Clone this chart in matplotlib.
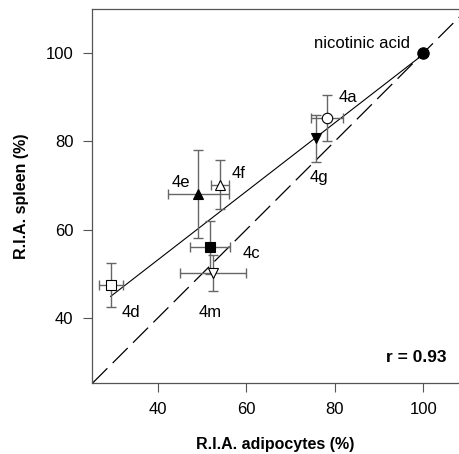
import numpy as np
import matplotlib
matplotlib.use("Agg")
import matplotlib.pyplot as plt

plt.rcParams["font.family"] = ["Liberation Sans", "DejaVu Sans"]

# values (R.I.A. in %)
names = ["nicotinic acid", "4a", "4g", "4e", "4f", "4c", "4m", "4d"]
adipocytes = [100.0, 78.3, 75.8, 49.2, 54.1, 51.8, 52.5, 29.4]
adipocytes_err = [0.0, 3.6, 0.0, 6.9, 2.1, 4.5, 7.4, 2.7]
spleen = [100.0, 85.3, 80.7, 68.1, 70.2, 56.0, 50.2, 47.5]
spleen_err = [0.0, 5.2, 5.3, 9.9, 5.5, 6.0, 4.0, 5.0]
markers = ["o", "o", "v", "^", "^", "s", "v", "s"]
filled = [True, False, True, True, False, True, False, False]

# label anchors (left x, baseline y) in data units
label_x = [97.0, 81.0, 74.4, 43.2, 56.7, 59.1, 49.3, 31.9]
label_y = [101.2, 89.0, 70.8, 69.8, 71.7, 53.6, 40.3, 40.3]

fig = plt.figure(figsize=(4.59, 4.54), dpi=100)
ax = fig.add_axes([0.2011, 0.1557, 0.7989, 0.8245])
ax.set_xlim(25.25, 108.1)
ax.set_ylim(25.25, 110.0)

# identity line
ax.plot([25.25, 115], [25.25, 115], color="black", lw=0.9, ls=(0, (17, 6)), zorder=1)

# linear fit through the compounds
x = np.array(adipocytes)
y = np.array(spleen)
slope, icpt = np.polyfit(x, y, 1)
r = np.corrcoef(x, y)[0, 1]
xs = np.array([x.min(), x.max()])
ax.plot(xs, icpt + slope * xs, color="black", lw=0.8, zorder=2)

for i, n in enumerate(names):
    ax.errorbar(adipocytes[i], spleen[i],
                xerr=adipocytes_err[i] or None, yerr=spleen_err[i] or None,
                fmt="none", ecolor="#666666", elinewidth=1.0, capsize=3.5,
                capthick=1.0, zorder=3)
    ax.plot(adipocytes[i], spleen[i], marker=markers[i],
            ms=8.2 if i == 0 else 7.5,
            mfc="black" if filled[i] else "white", mec="black", mew=0.8,
            ls="none", zorder=4)
    ha = "right" if i == 0 else "left"
    ax.text(label_x[i], label_y[i], n, fontsize=12, ha=ha, va="baseline")

ax.text(105.3, 30.1, f"r = {r:.2f}", fontsize=12.5, fontweight="bold",
        ha="right", va="baseline")

ax.set_xticks([40, 60, 80, 100])
ax.set_yticks([40, 60, 80, 100])
ax.tick_params(direction="out", length=6.5, width=0.8, color="#555555",
               labelsize=12, pad=7)
for s in ["left", "bottom", "top"]:
    ax.spines[s].set_color("#555555")
    ax.spines[s].set_linewidth(0.9)
ax.spines["right"].set_visible(False)

ax.set_xlabel("R.I.A. adipocytes (%)", fontsize=11.5, fontweight="bold", labelpad=14)
ax.set_ylabel("R.I.A. spleen (%)", fontsize=11.5, fontweight="bold", labelpad=12)

fig.savefig("out.png", dpi=100)
